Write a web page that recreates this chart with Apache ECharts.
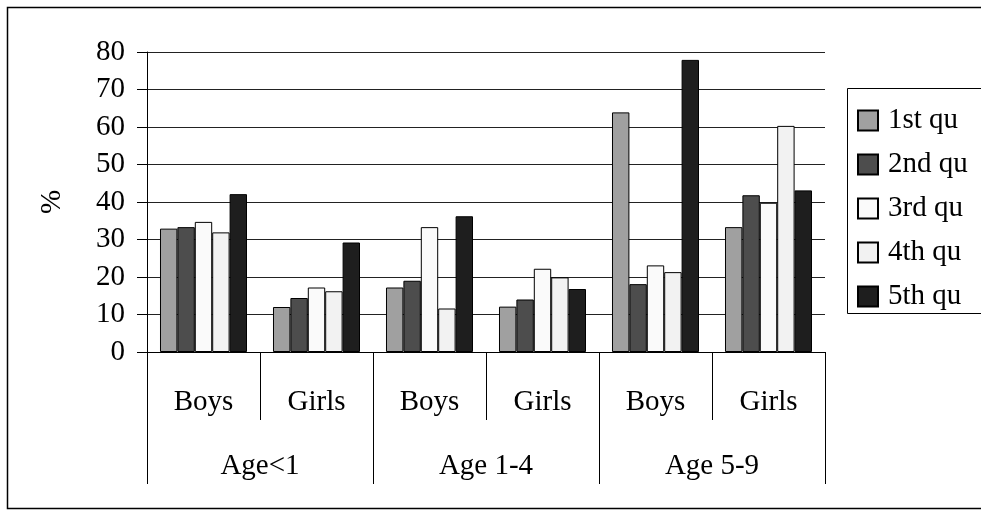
<!DOCTYPE html>
<html>
<head>
<meta charset="utf-8">
<script src="https://cdn.jsdelivr.net/npm/echarts@6/dist/echarts.min.js"></script>
<style>
html,body{margin:0;padding:0;background:#fff;}
#chart{width:981px;height:510px;}
</style>
</head>
<body>
<div id="chart"></div>
<script>
var sexLabels = ['Boys', 'Girls', 'Boys', 'Girls', 'Boys', 'Girls'];
var ageLabels = ['Age<1', 'Age 1-4', 'Age 5-9'];
var seriesNames = ['1st qu', '2nd qu', '3rd qu', '4th qu', '5th qu'];
var q1 = [32.9, 12.0, 17.2, 12.1, 63.9, 33.3];
var q2 = [33.3, 14.4, 19.0, 14.0, 18.1, 41.8];
var q3 = [34.7, 17.2, 33.3, 22.2, 23.1, 39.8];
var q4 = [31.9, 16.2, 11.6, 19.9, 21.3, 60.3];
var q5 = [42.1, 29.2, 36.2, 16.8, 77.9, 43.1];
var yTicks = [0, 10, 20, 30, 40, 50, 60, 70, 80];

var colors = ['#a0a0a0', '#4d4d4d', '#fafafa', '#f2f2f2', '#1e1e1e'];
var values = [q1, q2, q3, q4, q5];
var FONT = '"Liberation Serif", "Times New Roman", serif';
var FS = 29;

var chart = echarts.init(document.getElementById('chart'));
var series = seriesNames.map(function (n, i) {
  return {
    name: n,
    type: 'bar',
    xAxisIndex: 0,
    data: values[i],
    barGap: '0%',
    barCategoryGap: '23%',
    itemStyle: { color: colors[i], borderColor: '#000', borderWidth: 1 },
    emphasis: { disabled: true },
    animation: false
  };
});

chart.setOption({
  animation: false,
  backgroundColor: '#fff',
  textStyle: { fontFamily: FONT },
  grid: { left: 147, right: 156, top: 52, bottom: 158, containLabel: false },
  legend: {
    orient: 'vertical',
    left: 857,
    top: 106,
    padding: 0,
    itemWidth: 20,
    itemHeight: 20,
    itemGap: 15,
    icon: 'rect',
    selectedMode: false,
    data: seriesNames,
    textStyle: { fontFamily: FONT, fontSize: FS, color: '#000', padding: [0, 0, 0, 5] }
  },
  xAxis: [
    {
      type: 'category',
      data: sexLabels,
      position: 'bottom',
      axisLine: { show: true, lineStyle: { color: '#000', width: 1 } },
      axisTick: { show: true, interval: 0, length: 68, lineStyle: { color: '#000', width: 1 } },
      axisLabel: { interval: 0, margin: 36, color: '#000', fontFamily: FONT, fontSize: FS },
      splitLine: { show: false }
    },
    {
      type: 'category',
      data: ageLabels,
      position: 'bottom',
      axisLine: { show: false },
      axisTick: { show: true, interval: 0, length: 132, lineStyle: { color: '#000', width: 1 } },
      axisLabel: { interval: 0, margin: 100, color: '#000', fontFamily: FONT, fontSize: FS },
      splitLine: { show: false }
    }
  ],
  yAxis: {
    type: 'value',
    min: yTicks[0],
    max: yTicks[yTicks.length - 1],
    interval: 10,
    name: '%',
    nameLocation: 'middle',
    nameRotate: 90,
    nameGap: 80,
    nameTextStyle: { fontFamily: FONT, fontSize: FS, color: '#000' },
    axisLine: { show: true, lineStyle: { color: '#000', width: 1 } },
    axisTick: { show: true, length: 10, lineStyle: { color: '#000', width: 1 } },
    axisLabel: { margin: 22, color: '#000', fontFamily: FONT, fontSize: FS },
    splitLine: { show: true, lineStyle: { color: '#222', width: 1 } }
  },
  graphic: [
    { type: 'rect', shape: { x: 7.5, y: 7.5, width: 1000, height: 501 }, style: { fill: 'none', stroke: '#000', lineWidth: 1.5 }, silent: true, z: 100 },
    { type: 'rect', shape: { x: 847.5, y: 88.5, width: 200, height: 225 }, style: { fill: 'none', stroke: '#000', lineWidth: 1 }, silent: true, z: 100 }
  ],
  series: series
});
</script>
</body>
</html>
